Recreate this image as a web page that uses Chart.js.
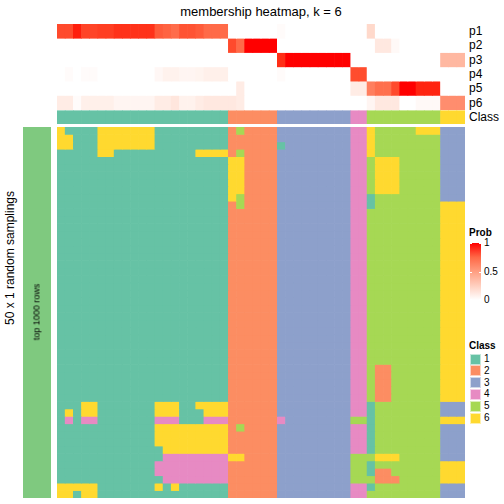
<!DOCTYPE html>
<html>

<head>
    <meta charset="UTF-8" />
    <title>membership heatmap, k = 6</title>
    <script src="https://cdn.jsdelivr.net/npm/chart.js"></script>
    <style>
        body { margin: 0; background: #fff; font-family: "Liberation Sans", Arial, Helvetica, sans-serif; }
        #wrap { position: relative; width: 504px; height: 504px; overflow: hidden; }
        canvas { position: absolute; }
        .txt { position: absolute; white-space: nowrap; color: #000; line-height: 1; }
        .vert { transform: translate(-50%, -50%) rotate(-90deg); }
        .lab { font-size: 12px; transform: translateY(-50%); }
        .leg { font-size: 10px; transform: translateY(-50%); }
        .box { position: absolute; width: 11px; height: 11px; box-sizing: border-box; border: 1px solid rgba(255,255,255,0.6); }
    </style>
</head>

<body>
    <div id="wrap">
        <div class="txt" style="left:261px; top:5px; font-size:13px; transform: translateX(-50%);">membership heatmap, k = 6</div>
        <div class="txt vert" style="left:10px; top:258px; font-size:12px;">50 x 1 random samplings</div>

        <canvas id="top" width="408" height="100" style="left:57px; top:24px;"></canvas>
        <canvas id="side" width="28" height="371" style="left:23px; top:127px;"></canvas>
        <canvas id="body" width="408" height="371" style="left:57px; top:127px;"></canvas>

        <div class="txt vert" style="left:37px; top:312px; font-size:9px;">top 1000 rows</div>
        <div id="rowLabels"></div>
        <div id="legend"></div>
    </div>

    <script>
        // class of each sample (column order of the heatmap)
        const sampleClass = '111111111111111111111 222222 333333333 44 555555555 666'.replace(/ /g, '');

        // membership probabilities per class
        const p1 = [0.86, 0.86, 0.97, 0.88, 0.88, 0.9, 0.9, 0.93, 0.93, 0.93, 0.93, 0.93, 0.8, 0.77, 0.73, 0.83, 0.83, 0.8, 0.74, 0.74, 0.74,
            0, 0, 0, 0, 0, 0, 0.02, 0, 0, 0, 0, 0, 0, 0, 0, 0, 0, 0.2, 0, 0, 0, 0, 0, 0, 0, 0, 0, 0, 0];
        const p2 = [0, 0, 0, 0, 0, 0, 0, 0, 0, 0, 0, 0, 0, 0, 0, 0, 0, 0, 0, 0, 0,
            0.86, 0.74, 1, 1, 1, 1, 0, 0, 0, 0, 0, 0, 0, 0, 0, 0, 0, 0, 0.12, 0.12, 0.03, 0, 0, 0, 0, 0, 0, 0, 0];
        const p3 = [0, 0, 0, 0, 0, 0, 0, 0, 0, 0, 0, 0, 0, 0, 0, 0, 0, 0, 0, 0, 0,
            0, 0, 0, 0, 0, 0, 0.94, 1, 1, 1, 1, 1, 1, 1, 1, 0, 0, 0, 0, 0, 0, 0, 0, 0, 0, 0, 0.37, 0.37, 0.37];
        const p4 = [0, 0.02, 0, 0.02, 0.02, 0, 0, 0, 0, 0, 0, 0, 0.04, 0.07, 0.07, 0.05, 0.05, 0.06, 0.08, 0.08, 0.08,
            0, 0, 0, 0, 0, 0, 0.02, 0, 0, 0, 0, 0, 0, 0, 0, 0.85, 0.85, 0, 0, 0, 0, 0, 0, 0, 0, 0, 0, 0, 0];
        const p5 = [0, 0, 0, 0, 0, 0, 0, 0, 0, 0, 0, 0, 0, 0, 0, 0, 0, 0, 0, 0, 0,
            0, 0.1, 0, 0, 0, 0, 0, 0, 0, 0, 0, 0, 0, 0, 0, 0.1, 0.1, 0.65, 0.72, 0.72, 0.86, 1, 1, 0.96, 0.96, 0.96, 0, 0, 0];
        const p6 = [0.1, 0.1, 0.02, 0.08, 0.08, 0.08, 0.08, 0.05, 0.05, 0.05, 0.05, 0.05, 0.1, 0.1, 0.13, 0.07, 0.07, 0.1, 0.12, 0.12, 0.12,
            0.12, 0.1, 0, 0, 0, 0, 0, 0, 0, 0, 0, 0, 0, 0, 0, 0, 0, 0.05, 0.12, 0.12, 0.12, 0, 0, 0.03, 0.03, 0.03, 0.58, 0.58, 0.58];

        // class assigned in each of the 50 random samplings (rows), one char per sample
        const membership = [
            '611116666666111111111 252222 333333333 44 655555666 333',
            '661116666666111111111 222222 333333333 44 655555555 333',
            '661116666666111111111 222222 133333333 44 655555555 333',
            '111116611111111116666 252222 333333333 44 655555555 333',
            '111111111111111111111 662222 333333333 44 566655555 333',
            '111111111111111111111 662222 333333333 44 566655555 333',
            '111111111111111111111 662222 333333333 44 566655555 333',
            '111111111111111111111 662222 333333333 44 566655555 333',
            '111111111111111111111 662222 333333333 44 566655555 333',
            '111111111111111111111 652222 333333333 44 155555555 333',
            '111111111111111111111 252222 333333333 44 155555555 666',
            '111111111111111111111 222222 333333333 44 555555555 666',
            '111111111111111111111 222222 333333333 44 555555555 666',
            '111111111111111111111 222222 333333333 44 555555555 666',
            '111111111111111111111 222222 333333333 44 555555555 666',
            '111111111111111111111 222222 333333333 44 555555555 666',
            '111111111111111111111 222222 333333333 44 555555555 666',
            '111111111111111111111 222222 333333333 44 555555555 666',
            '111111111111111111111 222222 333333333 44 555555555 666',
            '111111111111111111111 222222 333333333 44 555555555 666',
            '111111111111111111111 222222 333333333 44 555555555 666',
            '111111111111111111111 222222 333333333 44 555555555 666',
            '111111111111111111111 222222 333333333 44 555555555 666',
            '111111111111111111111 222222 333333333 44 555555555 666',
            '111111111111111111111 222222 333333333 44 555555555 666',
            '111111111111111111111 222222 333333333 44 555555555 666',
            '111111111111111111111 222222 333333333 44 555555555 666',
            '111111111111111111111 222222 333333333 44 555555555 666',
            '111111111111111111111 222222 333333333 44 555555555 666',
            '111111111111111111111 222222 333333333 44 555555555 666',
            '111111111111111111111 222222 333333333 44 555555555 666',
            '111111111111111111111 222222 333333333 44 555555555 666',
            '111111111111111111111 222222 333333333 44 522555555 666',
            '111111111111111111111 222222 333333333 44 522555555 666',
            '111111111111111111111 222222 333333333 44 522555555 666',
            '111111111111111111111 222222 333333333 44 522555555 666',
            '111111111111111111111 222222 333333333 44 522555555 666',
            '111661111111666116666 222222 333333333 44 155555555 333',
            '161661111111666111666 222222 333333333 44 155555555 333',
            '141441111111444111444 222222 433333333 55 155555555 666',
            '111111111111666666666 252222 333333333 44 155555555 333',
            '111111111111666666666 222222 333333333 44 155555555 333',
            '111111111111666666666 222222 333333333 44 155555555 333',
            '111111111111166666666 222222 333333333 44 155555555 333',
            '111111111111144444444 662222 333333333 55 566655555 333',
            '111111111111444444444 222222 333333333 55 155555555 666',
            '111111111111444444444 222222 333333333 55 122555555 666',
            '111111111111144444444 222222 333333333 55 522255555 666',
            '666661111111616111111 222222 333333333 44 155555555 333',
            '661661111111111111111 222222 333333333 44 555555555 333'
        ].map(s => s.replace(/ /g, ''));

        const probRows = ['p1', 'p2', 'p3', 'p4', 'p5', 'p6'];
        const probValues = [p1, p2, p3, p4, p5, p6];
        const classLabels = ['1', '2', '3', '4', '5', '6'];
        const probTicks = [1, 0.5, 0];

        const classColors = { '1': '#66C2A5', '2': '#FC8D62', '3': '#8DA0CB', '4': '#E78AC3', '5': '#A6D854', '6': '#FFD92F' };
        const samples = sampleClass.split('').map((_, i) => 'sample' + (i + 1));

        // white -> red ramp interpolated in LAB, like colorRamp2
        function toLin(c) { c /= 255; return c <= 0.04045 ? c / 12.92 : Math.pow((c + 0.055) / 1.055, 2.4); }
        function toSrgb(v) {
            v = v <= 0.0031308 ? 12.92 * v : 1.055 * Math.pow(v, 1 / 2.4) - 0.055;
            return Math.round(Math.min(1, Math.max(0, v)) * 255);
        }
        function rgb2lab(r, g, b) {
            r = toLin(r); g = toLin(g); b = toLin(b);
            let x = (0.4124 * r + 0.3576 * g + 0.1805 * b) / 0.95047;
            let y = (0.2126 * r + 0.7152 * g + 0.0722 * b);
            let z = (0.0193 * r + 0.1192 * g + 0.9505 * b) / 1.08883;
            const f = t => t > 0.008856 ? Math.cbrt(t) : 7.787 * t + 16 / 116;
            x = f(x); y = f(y); z = f(z);
            return [116 * y - 16, 500 * (x - y), 200 * (y - z)];
        }
        function lab2rgb(L, a, b) {
            const fy = (L + 16) / 116, fx = fy + a / 500, fz = fy - b / 200;
            const inv = t => t * t * t > 0.008856 ? t * t * t : (t - 16 / 116) / 7.787;
            const x = inv(fx) * 0.95047, y = inv(fy), z = inv(fz) * 1.08883;
            const r = 3.2406 * x - 1.5372 * y - 0.4986 * z;
            const g = -0.9689 * x + 1.8758 * y + 0.0415 * z;
            const bb = 0.0557 * x - 0.2040 * y + 1.0570 * z;
            return 'rgb(' + toSrgb(r) + ',' + toSrgb(g) + ',' + toSrgb(bb) + ')';
        }
        const labWhite = rgb2lab(255, 255, 255), labRed = rgb2lab(255, 0, 0);
        function probColor(v) {
            return lab2rgb(labWhite[0] + (labRed[0] - labWhite[0]) * v,
                labWhite[1] + (labRed[1] - labWhite[1]) * v,
                labWhite[2] + (labRed[2] - labWhite[2]) * v);
        }

        const flat = {
            borderWidth: 0,
            barPercentage: 1,
            categoryPercentage: 1
        };
        function heatOptions(rows) {
            return {
                responsive: false,
                animation: false,
                layout: { padding: 0 },
                plugins: { legend: { display: false }, tooltip: { enabled: false } },
                scales: {
                    x: { type: 'category', display: false, stacked: true },
                    y: { type: 'linear', display: false, reverse: true, min: 0, max: rows }
                }
            };
        }

        // top annotation: p1..p6 and Class
        const topSets = probValues.map((vals, i) => Object.assign({
            label: probRows[i],
            data: samples.map(() => [i, i + 1]),
            backgroundColor: vals.map(probColor)
        }, flat));
        topSets.push(Object.assign({
            label: 'Class',
            data: samples.map(() => [6.07, 7]),
            backgroundColor: sampleClass.split('').map(k => classColors[k])
        }, flat));
        new Chart(document.getElementById('top'), {
            type: 'bar',
            data: { labels: samples, datasets: topSets },
            options: heatOptions(7)
        });

        // main body: one row per random sampling
        const bodySets = membership.map((row, r) => Object.assign({
            label: 'sampling ' + (r + 1),
            data: samples.map(() => [r, r + 1]),
            backgroundColor: row.split('').map(k => classColors[k])
        }, flat));
        new Chart(document.getElementById('body'), {
            type: 'bar',
            data: { labels: samples, datasets: bodySets },
            options: heatOptions(membership.length)
        });

        // row annotation bar on the left
        new Chart(document.getElementById('side'), {
            type: 'bar',
            data: { labels: ['top 1000 rows'], datasets: [Object.assign({ data: [[0, membership.length]], backgroundColor: '#7FC97F' }, flat)] },
            options: heatOptions(membership.length)
        });

        // right-hand row labels
        let html = '';
        probRows.concat(['Class']).forEach((name, i) => {
            const y = 24 + (i + 0.5) * (100 / 7) + (i === 6 ? 0.5 : 0);
            html += `<div class="txt lab" style="left:469px; top:${y}px;">${name}</div>`;
        });
        document.getElementById('rowLabels').innerHTML = html;

        // legends
        let leg = '<div class="txt leg" style="left:469px; top:233px; font-weight:bold;">Prob</div>';
        const stops = [0, 0.25, 0.5, 0.75, 1].map(t => probColor(t) + ' ' + (t * 100) + '%').join(',');
        leg += `<div style="position:absolute; left:470px; top:243px; width:11px; height:57px; background:linear-gradient(to top, ${stops});"></div>`;
        probTicks.forEach(t => {
            const y = 243 + (1 - t) * 57;
            leg += `<div style="position:absolute; left:470px; top:${Math.round(y) - (t === 0 ? 1 : 0)}px; width:2px; height:1px; background:#fff;"></div>`;
            leg += `<div style="position:absolute; left:479px; top:${Math.round(y) - (t === 0 ? 1 : 0)}px; width:2px; height:1px; background:#fff;"></div>`;
            leg += `<div class="txt leg" style="left:484px; top:${y}px;">${t}</div>`;
        });
        leg += '<div class="txt leg" style="left:469px; top:346px; font-weight:bold;">Class</div>';
        classLabels.forEach((k, i) => {
            const y = 353.5 + i * 11.8;
            leg += `<div class="box" style="left:470px; top:${y}px; background:${classColors[k]};"></div>`;
            leg += `<div class="txt leg" style="left:484px; top:${y + 5.5}px;">${k}</div>`;
        });
        document.getElementById('legend').innerHTML = leg;
    </script>
</body>

</html>
